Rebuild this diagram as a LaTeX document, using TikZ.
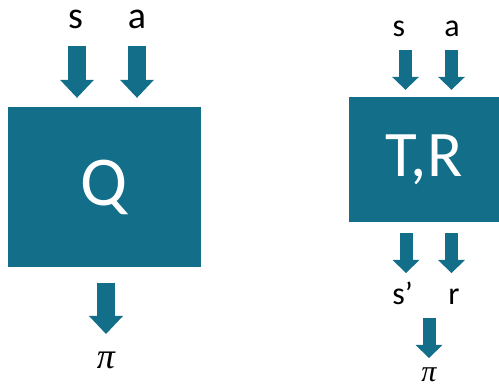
\documentclass[tikz,border=0pt]{standalone}
\usepackage{fontspec}
\setmainfont{Carlito}
\newfontfamily\pifont{Liberation Serif}
\usetikzlibrary{arrows.meta}

\definecolor{boxteal}{RGB}{19,110,137}

\tikzset{
	fnbox/.style={fill=boxteal, draw=none, text=white, inner sep=0pt},
	biglabel/.style={anchor=base, font=\fontsize{38}{40}\selectfont},
	smalllabel/.style={anchor=base, font=\fontsize{32}{34}\selectfont},
	fatarrow/.style={draw=boxteal, line width=18pt, -{Triangle[width=34pt,length=18pt,line width=0pt]}},
	thinarrow/.style={draw=boxteal, line width=13pt, -{Triangle[width=27pt,length=13pt,line width=0pt]}}
}

\begin{document}
\begin{tikzpicture}[x=1pt,y=-1pt]
		\useasboundingbox (0,0) rectangle (499,387);
		
		\node[fnbox, minimum width=193pt, minimum height=160pt, font=\fontsize{70}{72}\selectfont] (Q) at (104.5,187) {Q};
		
		\node[biglabel] (sQ) at (75.5,29) {s};
		\node[biglabel] (aQ) at (137,29) {a};
		\node[anchor=base, font=\fontsize{36}{38}\selectfont\pifont\itshape] (piQ) at (106,369) {π};
		
		\coordinate (sQin) at (77,46);
		\coordinate (aQin) at (137,46);
		\coordinate (piQout) at (106,334);
		\draw[fatarrow, shorten >=9pt] (sQin) -- (sQin |- Q.north);
		\draw[fatarrow, shorten >=9pt] (aQin) -- (aQin |- Q.north);
		\draw[fatarrow, shorten <=16pt] (piQout |- Q.south) -- (piQout);
		
		
		\node[fnbox, minimum width=150pt, minimum height=125pt, font=\fontsize{65}{67}\selectfont] (TR) at (424,159.5) {T,R};
		
		\node[smalllabel] (sTR) at (399,37) {s};
		\node[smalllabel] (aTR) at (452,37) {a};
		\node[smalllabel] (sprime) at (402.5,305) {s’};
		\node[smalllabel] (rTR) at (454,305) {r};
		\node[anchor=base, font=\fontsize{30}{32}\selectfont\pifont\itshape] (piTR) at (429,382) {π};
		
		\coordinate (sTRin) at (405.5,50);
		\coordinate (aTRin) at (451.5,50);
		\coordinate (sTRout) at (406,273);
		\coordinate (rTRout) at (451.5,273);
		\coordinate (piTRin) at (429,318);
		\coordinate (piTRout) at (429,358);
		\draw[thinarrow, shorten >=7pt] (sTRin) -- (sTRin |- TR.north);
		\draw[thinarrow, shorten >=7pt] (aTRin) -- (aTRin |- TR.north);
		\draw[thinarrow, shorten <=11pt] (sTRout |- TR.south) -- (sTRout);
		\draw[thinarrow, shorten <=11pt] (rTRout |- TR.south) -- (rTRout);
		\draw[thinarrow] (piTRin) -- (piTRout);
		
	\end{tikzpicture}
\end{document}
